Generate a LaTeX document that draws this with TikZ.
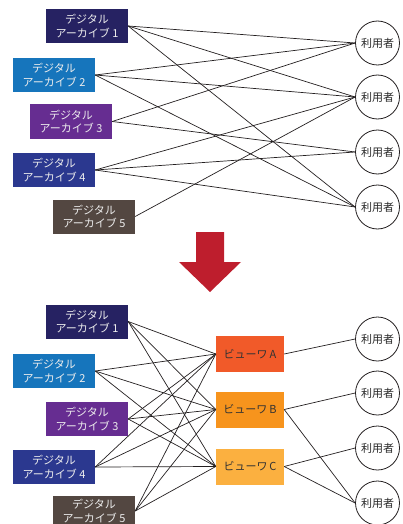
\documentclass[tikz,border=0pt]{standalone}
\usepackage{fontspec}
\newfontfamily\jp{Noto Sans CJK JP}
\definecolor{arcA}{RGB}{38,34,98}
\definecolor{arcB}{RGB}{22,117,188}
\definecolor{arcC}{RGB}{102,45,145}
\definecolor{arcD}{RGB}{43,56,143}
\definecolor{arcE}{RGB}{83,71,65}
\definecolor{viewA}{RGB}{241,90,41}
\definecolor{viewB}{RGB}{247,148,29}
\definecolor{viewC}{RGB}{251,176,64}
\definecolor{arrowred}{RGB}{190,30,45}
\definecolor{linec}{RGB}{35,31,32}
\begin{document}
\begin{tikzpicture}[x=1pt,y=-1pt,
  archive/.style={rectangle,minimum width=82pt,minimum height=34pt,inner sep=0pt,
    text=white!93!black,align=center,font=\jp\fontsize{11}{13.5}\selectfont},
  viewer/.style={rectangle,minimum width=68pt,minimum height=36pt,inner sep=0pt,
    text=black!80,font=\jp\fontsize{11}{13.5}\selectfont},
  user/.style={circle,draw=linec,line width=0.8pt,minimum size=44pt,inner sep=0pt,
    text=black!85,font=\jp\fontsize{11}{13.5}\selectfont},
  link/.style={draw=linec,line width=0.7pt}]
\useasboundingbox (0,0) rectangle (403,524);
% top
\node[archive,fill=arcA] (a1) at (87,26) {デジタル\\アーカイブ 1};
\node[archive,fill=arcB] (a2) at (54,75) {デジタル\\アーカイブ 2};
\node[archive,fill=arcC] (a3) at (71,121.5) {デジタル\\アーカイブ 3};
\node[archive,fill=arcD] (a4) at (54,170) {デジタル\\アーカイブ 4};
\node[archive,fill=arcE] (a5) at (94,216.5) {デジタル\\アーカイブ 5};
\node[user] (u1) at (377.5,43) {利用者};
\node[user] (u2) at (377.5,97) {利用者};
\node[user] (u3) at (377.5,152) {利用者};
\node[user] (u4) at (377.5,207) {利用者};
\foreach \a/\u in {a1/u1,a1/u2,a1/u4,a2/u1,a2/u2,a2/u4,a3/u1,a3/u3,a4/u2,a4/u3,a4/u4,a5/u2}
  \draw[link] (\a.east) -- (\u.west);
% arrow
\fill[arrowred] (196,232) -- (224,232) -- (224,262) -- (241,262) -- (210,292) -- (179,262) -- (196,262) -- cycle;
% bottom
\node[archive,fill=arcA] (b1) at (87,321.5) {デジタル\\アーカイブ 1};
\node[archive,fill=arcB] (b2) at (54,371) {デジタル\\アーカイブ 2};
\node[archive,fill=arcC] (b3) at (87,419) {デジタル\\アーカイブ 3};
\node[archive,fill=arcD] (b4) at (54,467) {デジタル\\アーカイブ 4};
\node[archive,fill=arcE,minimum height=30pt] (b5) at (94,511) {デジタル\\アーカイブ 5};
\node[viewer,fill=viewA] (va) at (250,354) {ビューワ\,A};
\node[viewer,fill=viewB] (vb) at (250,409.5) {ビューワ\,B};
\node[viewer,fill=viewC] (vc) at (250,466.5) {ビューワ\,C};
\node[user] (w1) at (377.5,339) {利用者};
\node[user] (w2) at (377.5,393) {利用者};
\node[user] (w3) at (377.5,448) {利用者};
\node[user] (w4) at (377.5,503) {利用者};
\foreach \a in {b1,b2,b3,b4,b5}
  \foreach \v in {va,vb,vc}
    \draw[link] (\a.east) -- (\v.west);
\foreach \v/\u in {va/w1,vb/w2,vb/w4,vc/w3,vc/w4}
  \draw[link] (\v.east) -- (\u.west);
\end{tikzpicture}
\end{document}
